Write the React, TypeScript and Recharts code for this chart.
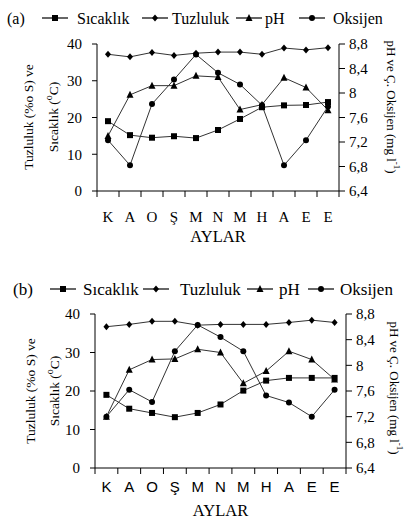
import { Label, Line, LineChart, XAxis, YAxis } from "recharts"

const SERIF = "Liberation Serif, Times New Roman, DejaVu Serif, serif"
const SANS = "Liberation Sans, Arial, sans-serif"

// Aylar (x ekseni) ve seriler
const AYLAR = ["K", "A", "O", "Ş", "M", "N", "M", "H", "A", "E", "E"]
const SERILER = ["Sıcaklık", "Tuzluluk", "pH", "Oksijen"]
const SOL_TICKS = [0, 10, 20, 30, 40]
const SAG_TICKS = [6.4, 6.8, 7.2, 7.6, 8, 8.4, 8.8]

// (a) istasyonu
const sicaklikA = [19.0, 15.2, 14.5, 14.9, 14.4, 16.6, 19.6, 22.8, 23.3, 23.4, 24.2]
const tuzlulukA = [37.2, 36.5, 37.7, 36.9, 37.5, 37.8, 37.8, 37.2, 38.9, 38.4, 39.0]
const phA = [7.3, 7.97, 8.12, 8.12, 8.28, 8.26, 7.73, 7.81, 8.25, 8.09, 7.72]
const oksijenA = [7.23, 6.82, 7.82, 8.22, 8.63, 8.33, 8.14, 7.8, 6.82, 7.23, 7.78]

// (b) istasyonu
const sicaklikB = [19.0, 15.4, 14.3, 13.2, 14.3, 16.5, 20.1, 22.7, 23.4, 23.4, 23.4]
const tuzlulukB = [36.7, 37.3, 38.1, 38.1, 37.1, 37.3, 37.3, 37.3, 37.8, 38.4, 37.8]
const phB = [7.2, 7.93, 8.09, 8.1, 8.25, 8.2, 7.72, 7.91, 8.22, 8.09, 7.78]
const oksijenB = [7.2, 7.62, 7.43, 8.22, 8.63, 8.44, 8.22, 7.53, 7.42, 7.2, 7.62]

const SHAPES = ["square", "diamond", "triangle", "circle"]

function buildRows(sic: number[], tuz: number[], ph: number[], oks: number[]) {
  return AYLAR.map((ay, i) => ({
    ay,
    pos: i + 0.5,
    sicaklik: sic[i],
    tuzluluk: tuz[i],
    ph: ph[i],
    oksijen: oks[i],
  }))
}

function Marker({ cx, cy, shape, size = 6 }: any) {
  const h = size / 2
  if (shape === "square") return <rect x={cx - h} y={cy - h} width={size} height={size} fill="#000" />
  if (shape === "diamond")
    return <polygon points={`${cx},${cy - h - 0.5} ${cx + h},${cy} ${cx},${cy + h + 0.5} ${cx - h},${cy}`} fill="#000" />
  if (shape === "triangle")
    return <polygon points={`${cx},${cy - h - 1} ${cx + h + 0.5},${cy + h} ${cx - h - 0.5},${cy + h}`} fill="#000" />
  return <circle cx={cx} cy={cy} r={h} fill="#000" />
}

const dotOf = (shape: string) => (p: any) => {
  if (p.cx == null || p.cy == null) return <g key={p.index} />
  return <Marker key={p.index} cx={p.cx} cy={p.cy} shape={shape} />
}

const xTicks = Array.from({ length: AYLAR.length * 2 + 1 }, (_, i) => i / 2)

const serifStyle = { fontFamily: SERIF }

function Panel({ cfg, rows }: any) {
  const monthTick = (p: any) => {
    const v = p.payload.value
    if (Number.isInteger(v)) {
      return <line x1={p.x} x2={p.x} y1={p.y} y2={p.y + 6} stroke="#000" />
    }
    return (
      <text x={p.x} y={p.y + cfg.labelDy} textAnchor="middle" style={{ fontFamily: cfg.xFont }} fontSize={15} fill="#000">
        {AYLAR[Math.floor(v)]}
      </text>
    )
  }

  const keys = ["sicaklik", "tuzluluk", "ph", "oksijen"]
  const axes = ["l", "l", "r", "r"]

  return (
    <div style={{ position: "absolute", left: 0, top: cfg.top, width: 405, height: cfg.height }}>
      <svg width={405} height={cfg.height} style={{ position: "absolute", left: 0, top: 0 }}>
        <text x={cfg.tagX} y={cfg.legendY + 6} style={serifStyle} fontSize={cfg.legendFont} fill="#000">
          {cfg.tag}
        </text>
        {SERILER.map((name, i) => (
          <g key={name}>
            <line x1={cfg.segX[i]} x2={cfg.segX[i] + 26} y1={cfg.legendY} y2={cfg.legendY} stroke="#000" strokeWidth={1.2} />
            <Marker cx={cfg.segX[i] + 13} cy={cfg.legendY} shape={SHAPES[i]} />
            <text x={cfg.textX[i]} y={cfg.legendY + 6} style={serifStyle} fontSize={cfg.legendFont} fill="#000">
              {name}
            </text>
          </g>
        ))}
        <text
          transform={`translate(${cfg.leftTitleX[0]},${cfg.leftTitleY}) rotate(-90)`}
          textAnchor="middle"
          dominantBaseline="central"
          style={serifStyle}
          fontSize={13.5}
          fill="#000"
        >
          Tuzluluk (%o S) ve
        </text>
        <text
          transform={`translate(${cfg.leftTitleX[1]},${cfg.leftTitleY}) rotate(-90)`}
          textAnchor="middle"
          dominantBaseline="central"
          style={serifStyle}
          fontSize={13.5}
          fill="#000"
        >
          <tspan>Sıcaklık (</tspan>
          <tspan dy={-5} fontSize={10}>o</tspan>
          <tspan dy={5}>C)</tspan>
        </text>
        <text
          transform={`translate(${cfg.rightTitleX},${cfg.rightTitleY}) rotate(90)`}
          textAnchor="middle"
          dominantBaseline="central"
          style={serifStyle}
          fontSize={13}
          fill="#000"
        >
          <tspan>pH ve Ç. Oksijen (mg l</tspan>
          <tspan dy={-5} fontSize={9}>-1</tspan>
          <tspan dy={5}>)</tspan>
        </text>
      </svg>
      <LineChart
        width={405}
        height={cfg.height}
        data={rows}
        margin={{ top: cfg.plotTop, right: 0, left: 0, bottom: 0 }}
        style={{ position: "absolute", left: 0, top: 0 }}
      >
        <XAxis
          dataKey="pos"
          type="number"
          domain={[0, AYLAR.length]}
          ticks={xTicks}
          interval={0}
          tick={monthTick}
          tickLine={false}
          tickSize={0}
          tickMargin={0}
          height={cfg.xAxisH}
          axisLine={{ stroke: "#000" }}
        >
          <Label
            content={(p: any) => {
              const vb = p.viewBox
              return (
                <text
                  x={vb.x + vb.width / 2}
                  y={vb.y + cfg.aylarDy}
                  textAnchor="middle"
                  style={serifStyle}
                  fontSize={16.5}
                  fill="#000"
                >
                  AYLAR
                </text>
              )
            }}
          />
        </XAxis>
        <YAxis
          yAxisId="l"
          domain={[0, 40]}
          ticks={SOL_TICKS}
          interval={0}
          width={cfg.left}
          tickSize={5}
          tickMargin={10}
          axisLine={{ stroke: "#000" }}
          tickLine={{ stroke: "#000" }}
          tick={{ style: serifStyle, fontSize: 15, fill: "#000" }}
        />
        <YAxis
          yAxisId="r"
          orientation="right"
          domain={[6.4, 8.8]}
          ticks={SAG_TICKS}
          interval={0}
          width={cfg.right}
          tickSize={6}
          tickMargin={4}
          axisLine={{ stroke: "#000" }}
          tickLine={{ stroke: "#000" }}
          tick={{ style: serifStyle, fontSize: 15, fill: "#000" }}
          tickFormatter={(v: number) => String(v).replace(".", ",")}
        />
        {keys.map((k, i) => (
          <Line
            key={k}
            yAxisId={axes[i]}
            dataKey={k}
            name={SERILER[i]}
            stroke="#333"
            strokeWidth={1}
            dot={dotOf(SHAPES[i])}
            activeDot={false}
            isAnimationActive={false}
          />
        ))}
      </LineChart>
    </div>
  )
}

const cfgA = {
  top: 0,
  height: 260,
  plotTop: 44,
  left: 97,
  right: 66,
  xAxisH: 69,
  tag: "(a)",
  tagX: 7,
  legendY: 18,
  legendFont: 16,
  segX: [42, 142, 236, 299],
  textX: [77, 172, 265, 333],
  xFont: SERIF,
  labelDy: 31,
  aylarDy: 51,
  leftTitleX: [28, 53],
  leftTitleY: 117,
  rightTitleX: 392,
  rightTitleY: 107,
}

const cfgB = {
  top: 260,
  height: 265,
  plotTop: 54,
  left: 95,
  right: 59,
  xAxisH: 57,
  tag: "(b)",
  tagX: 13,
  legendY: 29,
  legendFont: 17,
  segX: [50, 143, 247, 308],
  textX: [83, 180, 279, 340],
  xFont: SANS,
  labelDy: 23.5,
  aylarDy: 48,
  leftTitleX: [30, 54],
  leftTitleY: 131,
  rightTitleX: 395,
  rightTitleY: 128,
}

export default function App() {
  const rowsA = buildRows(sicaklikA, tuzlulukA, phA, oksijenA)
  const rowsB = buildRows(sicaklikB, tuzlulukB, phB, oksijenB)
  return (
    <div style={{ position: "absolute", left: 0, top: 0, width: 405, height: 525, background: "#fff" }}>
      <Panel cfg={cfgA} rows={rowsA} />
      <Panel cfg={cfgB} rows={rowsB} />
    </div>
  )
}
